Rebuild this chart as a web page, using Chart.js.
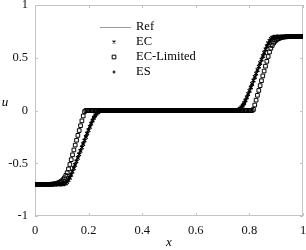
<!DOCTYPE html>
<html>
<head>
    <title>u(x) solution comparison</title>
    <script src="https://cdn.jsdelivr.net/npm/chart.js"></script>
    <style>
        body {
            margin: 0;
            background-color: #fff;
        }
    </style>
</head>
<body>
    <canvas id="myChart" width="306" height="250"></canvas>

    <script>
        // Mesh used by the numerical schemes
        const nCells = 200;
        const uLow = -0.7, uMid = 0, uHigh = 0.7;

        // Ref: exact solution, corner points
        const refX = [0, 0.122, 0.23, 0.77, 0.878, 1];
        const refU = [-0.7, -0.7, 0, 0, 0.7, 0.7];

        // EC: values across the two fans (step 1/nCells)
        const ecLeftStart = 0.100;
        const ecLeft = [-0.700, -0.699, -0.696, -0.689, -0.677, -0.660, -0.637, -0.609, -0.579, -0.547,
                        -0.515, -0.482, -0.449, -0.416, -0.383, -0.350, -0.317, -0.284, -0.251, -0.218,
                        -0.186, -0.155, -0.124, -0.095, -0.069, -0.047, -0.029, -0.016, -0.007, -0.002, 0];
        const ecRightStart = 0.750;
        const ecRight = [0, 0.002, 0.007, 0.016, 0.029, 0.047, 0.069, 0.095, 0.124, 0.155,
                         0.186, 0.218, 0.251, 0.284, 0.317, 0.350, 0.383, 0.416, 0.449, 0.482,
                         0.515, 0.547, 0.579, 0.609, 0.637, 0.660, 0.677, 0.689, 0.696, 0.699, 0.700];

        // EC-Limited
        const limLeftStart = 0.055;
        const limLeft = [-0.700, -0.699, -0.698, -0.697, -0.695, -0.692, -0.688, -0.683, -0.676, -0.667,
                         -0.655, -0.638, -0.616, -0.590, -0.554, -0.512, -0.466, -0.420, -0.374, -0.328,
                         -0.282, -0.236, -0.190, -0.144, -0.098, -0.052, -0.010, 0, 0];
        const limRightStart = 0.805;
        const limRight = [0, 0, 0.010, 0.052, 0.098, 0.144, 0.190, 0.236, 0.282, 0.328,
                          0.374, 0.420, 0.466, 0.512, 0.554, 0.590, 0.616, 0.638, 0.655, 0.667,
                          0.676, 0.683, 0.688, 0.692, 0.695, 0.697, 0.698, 0.699, 0.700];

        // ES
        const esLeftStart = 0.100;
        const esLeft = [-0.699, -0.697, -0.692, -0.683, -0.669, -0.650, -0.626, -0.598, -0.568, -0.537,
                        -0.505, -0.473, -0.440, -0.407, -0.374, -0.341, -0.308, -0.275, -0.242, -0.209,
                        -0.177, -0.146, -0.117, -0.090, -0.066, -0.046, -0.030, -0.017, -0.008, -0.003, 0];
        const esRightStart = 0.750;
        const esRight = [0, 0.003, 0.008, 0.017, 0.030, 0.046, 0.066, 0.090, 0.117, 0.146,
                         0.177, 0.209, 0.242, 0.275, 0.308, 0.341, 0.374, 0.407, 0.440, 0.473,
                         0.505, 0.537, 0.568, 0.598, 0.626, 0.650, 0.669, 0.683, 0.692, 0.697, 0.699];

        const xTicks = [0, 0.2, 0.4, 0.6, 0.8, 1];
        const yTicks = [-1, -0.5, 0, 0.5, 1];

        // put the read values on the mesh, plateaus outside the fans
        function onMesh(leftStart, leftVals, rightStart, rightVals) {
            const pts = [];
            for (let i = 0; i <= nCells; i++) {
                const x = i / nCells;
                const li = Math.round((x - leftStart) * nCells);
                const ri = Math.round((x - rightStart) * nCells);
                let u;
                if (li < 0) u = uLow;
                else if (li < leftVals.length) u = leftVals[li];
                else if (ri < 0) u = uMid;
                else if (ri < rightVals.length) u = rightVals[ri];
                else u = uHigh;
                pts.push({ x: x, y: u });
            }
            return pts;
        }

        const serif = "'Liberation Serif', 'Times New Roman', serif";
        Chart.defaults.font.family = serif;

        // frame, inward ticks, legend and axis letters
        const framePlugin = {
            id: 'frame',
            beforeDatasetsDraw(chart) {
                const { ctx, chartArea: a, scales } = chart;
                ctx.save();
                ctx.strokeStyle = '#c4c4c4';
                ctx.lineWidth = 1;
                ctx.strokeRect(a.left + 0.5, a.top + 0.5, a.width - 1, a.height - 1);
                ctx.beginPath();
                xTicks.forEach(v => {
                    const px = Math.round(scales.x.getPixelForValue(v)) + 0.5;
                    ctx.moveTo(px, a.bottom); ctx.lineTo(px, a.bottom - 3);
                    ctx.moveTo(px, a.top); ctx.lineTo(px, a.top + 3);
                });
                yTicks.forEach(v => {
                    const py = Math.round(scales.y.getPixelForValue(v)) + 0.5;
                    ctx.moveTo(a.left, py); ctx.lineTo(a.left + 3, py);
                    ctx.moveTo(a.right, py); ctx.lineTo(a.right - 3, py);
                });
                ctx.stroke();
                ctx.restore();
            },
            afterDraw(chart) {
                const ctx = chart.ctx;
                ctx.save();
                ctx.font = '12.5px ' + serif;
                ctx.fillStyle = '#000';
                ctx.textBaseline = 'middle';
                ctx.textAlign = 'left';
                const rowY = [27, 42, 57, 72];
                chart.data.datasets.forEach((ds, i) => {
                    const y = rowY[i];
                    if (ds.showLine) {
                        ctx.strokeStyle = ds.borderColor;
                        ctx.lineWidth = ds.borderWidth;
                        ctx.beginPath();
                        ctx.moveTo(100, y + 0.5); ctx.lineTo(131, y + 0.5);
                        ctx.stroke();
                    } else {
                        ctx.strokeStyle = ds.pointBorderColor;
                        ctx.fillStyle = 'rgba(0,0,0,0)';
                        ctx.lineWidth = ds.pointBorderWidth;
                        Chart.helpers.drawPoint(ctx, {
                            pointStyle: ds.pointStyle,
                            radius: ds.legendRadius,
                            borderWidth: ds.pointBorderWidth,
                            rotation: 0
                        }, 114, y);
                        ctx.fillStyle = '#000';
                    }
                    ctx.fillText(ds.label, 136, y);
                });
                ctx.font = 'italic 13px ' + serif;
                ctx.textAlign = 'center';
                ctx.fillText('x', 169, 243);
                ctx.fillText('u', 5, 103);
                ctx.restore();
            }
        };

        const ctx = document.getElementById('myChart').getContext('2d');
        const myChart = new Chart(ctx, {
            type: 'line',
            data: {
                datasets: [
                    {
                        label: 'Ref',
                        data: refX.map((x, i) => ({ x: x, y: refU[i] })),
                        showLine: true,
                        borderColor: '#9a9a9a',
                        borderWidth: 1,
                        pointRadius: 0,
                        order: 4
                    },
                    {
                        label: 'EC',
                        data: onMesh(ecLeftStart, ecLeft, ecRightStart, ecRight),
                        showLine: false,
                        pointStyle: 'crossRot',
                        pointRadius: 2.5,
                        legendRadius: 2,
                        pointBorderWidth: 1.2,
                        pointBorderColor: '#000',
                        order: 2
                    },
                    {
                        label: 'EC-Limited',
                        data: onMesh(limLeftStart, limLeft, limRightStart, limRight),
                        showLine: false,
                        pointStyle: 'rect',
                        pointRadius: 2.6,
                        legendRadius: 2.6,
                        pointBorderWidth: 1,
                        pointBorderColor: '#000',
                        pointBackgroundColor: 'rgba(0,0,0,0)',
                        order: 1
                    },
                    {
                        label: 'ES',
                        data: onMesh(esLeftStart, esLeft, esRightStart, esRight),
                        showLine: false,
                        pointStyle: 'cross',
                        pointRadius: 2,
                        legendRadius: 1.5,
                        pointBorderWidth: 1.2,
                        pointBorderColor: '#000',
                        order: 3
                    }
                ]
            },
            options: {
                responsive: false,
                animation: false,
                layout: { padding: { top: 5, right: 3, left: 0, bottom: 0 }, autoPadding: false },
                plugins: { legend: { display: false }, tooltip: { enabled: false } },
                scales: {
                    x: {
                        type: 'linear',
                        min: 0, max: 1,
                        grid: { display: false, drawTicks: false },
                        border: { display: false },
                        afterBuildTicks: s => { s.ticks = xTicks.map(v => ({ value: v })); },
                        afterFit: s => { s.height = 34; s.paddingLeft = 0; s.paddingRight = 0; },
                        ticks: { padding: 7, color: '#111', font: { family: serif, size: 12.5 }, maxRotation: 0,
                                 callback: v => String(v) }
                    },
                    y: {
                        type: 'linear',
                        min: -1, max: 1,
                        grid: { display: false, drawTicks: false },
                        border: { display: false },
                        afterBuildTicks: s => { s.ticks = yTicks.map(v => ({ value: v })); },
                        afterFit: s => { s.width = 35; s.paddingTop = 0; s.paddingBottom = 0; },
                        ticks: { padding: 7, color: '#111', font: { family: serif, size: 12.5 },
                                 callback: v => String(v) }
                    }
                }
            },
            plugins: [framePlugin]
        });
    </script>
</body>
</html>
